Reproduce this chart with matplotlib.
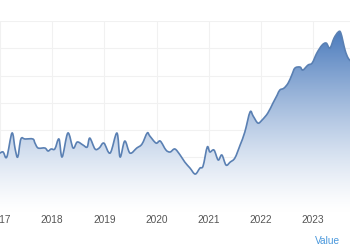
import numpy as np
import matplotlib
matplotlib.use("Agg")
import matplotlib.pyplot as plt
from matplotlib.path import Path
from matplotlib.patches import PathPatch

# monthly-ish readings
years = [2017.00, 2017.06, 2017.13, 2017.23, 2017.29, 2017.34, 2017.40, 2017.48,
         2017.63, 2017.67, 2017.73, 2017.86, 2017.92, 2017.98, 2018.05, 2018.13,
         2018.19, 2018.30, 2018.40, 2018.48, 2018.59, 2018.67, 2018.72, 2018.82,
         2018.90, 2018.99, 2019.11, 2019.24, 2019.30, 2019.39, 2019.49, 2019.62,
         2019.72, 2019.82, 2019.87, 2019.99, 2020.07, 2020.18, 2020.26, 2020.35,
         2020.45, 2020.54, 2020.64, 2020.74, 2020.83, 2020.89, 2020.97, 2021.02,
         2021.10, 2021.18, 2021.25, 2021.33, 2021.41, 2021.50, 2021.60, 2021.69,
         2021.79, 2021.85, 2021.94, 2022.02, 2022.13, 2022.23, 2022.31, 2022.36,
         2022.44, 2022.52, 2022.59, 2022.65, 2022.75, 2022.80, 2022.90, 2022.98,
         2023.07, 2023.17, 2023.25, 2023.32, 2023.40, 2023.48, 2023.53, 2023.61,
         2023.67, 2023.74]
values = [43.2, 44.0, 40.3, 57.9, 46.2, 40.3, 53.5, 53.5,
          53.5, 50.5, 46.9, 46.9, 44.7, 46.2, 46.2, 53.5,
          40.3, 57.9, 46.9, 51.3, 49.1, 47.6, 54.2, 46.2,
          46.9, 50.5, 43.2, 57.9, 40.3, 52.0, 43.2, 46.9,
          49.8, 57.9, 55.7, 50.5, 52.0, 45.4, 44.0, 46.2,
          41.8, 36.6, 32.2, 27.8, 32.2, 33.7, 47.6, 44.0,
          45.4, 38.1, 41.8, 34.4, 36.6, 39.6, 49.1, 58.6,
          73.3, 70.3, 65.2, 67.4, 72.5, 79.9, 85.7, 89.4,
          90.8, 94.5, 100.4, 105.5, 106.2, 104.0, 107.7, 109.2,
          116.5, 122.3, 123.8, 120.1, 127.5, 131.9, 131.1, 118.7,
          112.8, 109.9]
year_ticks = [2017, 2018, 2019, 2020, 2021, 2022, 2023]
value_ticks = [0, 20, 40, 60, 80, 100, 120, 140]

plt.rcParams['font.family'] = ['Liberation Sans', 'DejaVu Sans']

fig = plt.figure(figsize=(3.5, 2.5), dpi=100)
ax = fig.add_axes([0, 1 - 212 / 250, 1, (212 - 21) / 250])
ax.set_xlim(2017, 2017 + 350 / 52.2)
ax.set_ylim(0, 140)

# smooth spline-like path through the points (catmull-rom -> bezier)
x = np.array(years)
y = np.array(values)
verts = [(x[0], y[0])]
codes = [Path.MOVETO]
for i in range(len(x) - 1):
    x0, y0 = (x[i - 1], y[i - 1]) if i > 0 else (x[i], y[i])
    x3, y3 = (x[i + 2], y[i + 2]) if i + 2 < len(x) else (x[i + 1], y[i + 1])
    c1 = (x[i] + (x[i + 1] - x0) / 6, y[i] + (y[i + 1] - y0) / 6)
    c2 = (x[i + 1] - (x3 - x[i]) / 6, y[i + 1] - (y3 - y[i]) / 6)
    verts += [c1, c2, (x[i + 1], y[i + 1])]
    codes += [Path.CURVE4] * 3
line_path = Path(verts, codes)
area_path = Path(verts + [(x[-1], 0), (x[0], 0), (x[0], y[0])],
                 codes + [Path.LINETO, Path.LINETO, Path.CLOSEPOLY])

# gradient fill under the line
top = np.array([0x3f, 0x72, 0xb8]) / 255
frac = np.linspace(1, 0, 256) ** 1.3
grad = 1 - frac[:, None] * (1 - top[None, :])
img = ax.imshow(grad[:, None, :], extent=[x[0], x[-1], 0, 140], aspect='auto',
                origin='upper', zorder=2, interpolation='bilinear')
clip = PathPatch(area_path, transform=ax.transData, facecolor='none', edgecolor='none')
ax.add_patch(clip)
img.set_clip_path(clip)

ax.add_patch(PathPatch(line_path, facecolor='none', edgecolor='#5a80b3',
                       lw=1.2, zorder=3, capstyle='round', joinstyle='round'))

ax.set_xticks(year_ticks)
ax.set_xticklabels([str(t) for t in year_ticks])
ax.set_yticks(value_ticks)
ax.set_yticklabels([])
ax.grid(True, color='#f1f1f1', lw=0.8, zorder=0)
ax.set_axisbelow(True)
for s in ax.spines.values():
    s.set_visible(False)
ax.tick_params(axis='both', length=0)
ax.tick_params(axis='x', pad=2, labelsize=7.3, labelcolor='#555555')

fig.text(340 / 350, 1 - 241 / 250, 'Value', ha='right', va='center',
         fontsize=7.3, color='#4a98dc')

fig.savefig('out.png', dpi=100)
